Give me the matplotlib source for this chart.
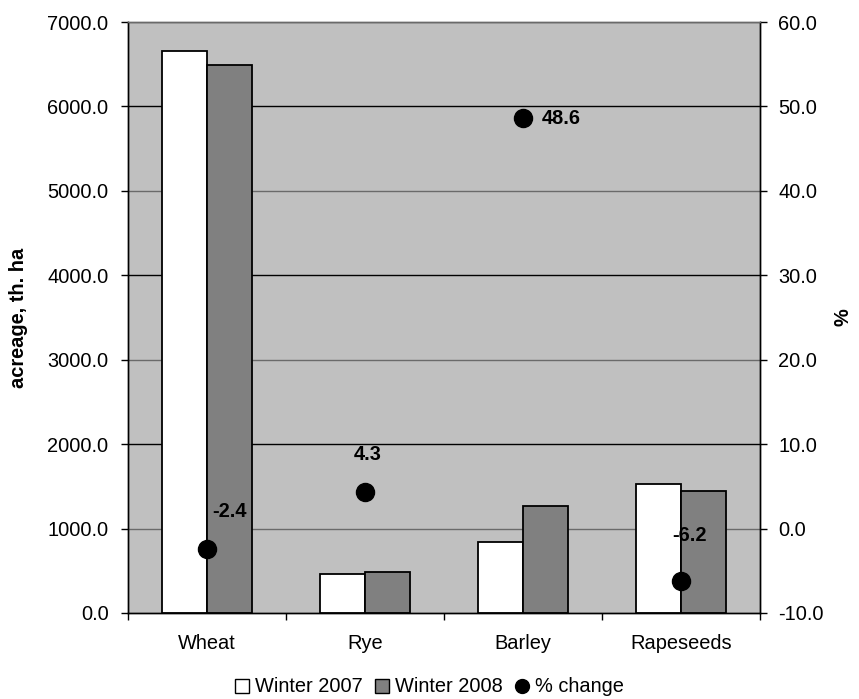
import matplotlib
matplotlib.use("Agg")
import matplotlib.pyplot as plt
from matplotlib.patches import Patch
from matplotlib.lines import Line2D
from matplotlib.ticker import FormatStrFormatter, MultipleLocator, FixedLocator
import numpy as np

categories = ["Wheat", "Rye", "Barley", "Rapeseeds"]
winter_2007 = [6660, 462, 845, 1528]
winter_2008 = [6490, 486, 1271, 1445]
pct_change = [-2.4, 4.3, 48.6, -6.2]
pct_labels = ["-2.4", "4.3", "48.6", "-6.2"]
series_names = ["Winter 2007", "Winter 2008", "% change"]

plt.rcParams['font.family'] = ['Liberation Sans', 'DejaVu Sans']
FS = 14.4

fig = plt.figure(figsize=(8.59, 6.99), dpi=100)
ax = fig.add_axes([128/859, 1-613/699, 632/859, 591/699])
ax2 = ax.twinx()

x = np.arange(len(categories))
w = 1/3.5
ax.set_facecolor('#C0C0C0')
ax.bar(x - w/2, winter_2007, width=w, color='white', edgecolor='black', linewidth=1.3, zorder=3)
ax.bar(x + w/2, winter_2008, width=w, color='#808080', edgecolor='black', linewidth=1.3, zorder=3)

ax.set_xlim(-0.5, len(categories) - 0.5)
ax.set_ylim(0, 7000)
ax.yaxis.set_major_locator(MultipleLocator(1000))
ax.yaxis.set_major_formatter(FormatStrFormatter('%.1f'))
ax.set_axisbelow(True)
# gridlines alternate gray / black
for i, v in enumerate(np.arange(1000, 7001, 1000)):
    col = 'black' if (i % 2 == 1) else '#6a6a6a'
    ax.axhline(v, color=col, linewidth=1.0, zorder=1)

ax.set_xticks(x)
ax.set_xticklabels(categories, fontsize=FS)
ax.tick_params(axis='x', which='major', length=0, pad=15)
ax.xaxis.set_minor_locator(FixedLocator(np.arange(-0.5, len(categories), 1.0)))
ax.tick_params(axis='x', which='minor', length=5, width=1, direction='out', color='black')
ax.tick_params(axis='y', length=5, width=1, direction='out', labelsize=FS, pad=9)

ax2.set_ylim(-10, 60)
ax2.yaxis.set_major_locator(MultipleLocator(10))
ax2.yaxis.set_major_formatter(FormatStrFormatter('%.1f'))
ax2.tick_params(axis='y', length=5, width=1, direction='out', labelsize=FS, pad=8)
ax2.plot(x, pct_change, linestyle='none', marker='o', markersize=13, color='black', zorder=5)

offsets = [(16.5, 27, 'center'), (2, 27, 'center'), (13.5, 0, 'left'), (6, 33, 'center')]
for xi, yi, lab, (dx, dy, ha) in zip(x, pct_change, pct_labels, offsets):
    ax2.annotate(lab, (xi, yi), xytext=(dx, dy), textcoords='offset points',
                 ha=ha, va='center', fontsize=FS, fontweight='bold', zorder=6)

for a in (ax, ax2):
    a.spines['top'].set_color('#6a6a6a')
    a.spines['left'].set_color('black')
    a.spines['right'].set_color('black')
    a.spines['bottom'].set_color('black')
    for s in a.spines.values():
        s.set_linewidth(1.0)

ax.set_ylabel('acreage, th. ha', fontsize=FS, fontweight='bold')
ax.yaxis.set_label_coords(-0.158, 0.5)
ax2.set_ylabel('%', fontsize=FS, fontweight='bold', rotation=90, va='center', ha='center')
ax2.yaxis.set_label_coords(1.131, 0.5)

handles = [Patch(facecolor='white', edgecolor='black', linewidth=1.0),
           Patch(facecolor='#808080', edgecolor='black', linewidth=1.0),
           Line2D([], [], linestyle='none', marker='o', markersize=10, color='black')]
fig.legend(handles, series_names, loc='center', bbox_to_anchor=(0.5, 1-687/699),
           ncol=3, frameon=False, fontsize=FS, handlelength=0.7, handleheight=0.7,
           handletextpad=0.3, columnspacing=0.6, borderpad=0)

fig.savefig('out.png', dpi=100)
